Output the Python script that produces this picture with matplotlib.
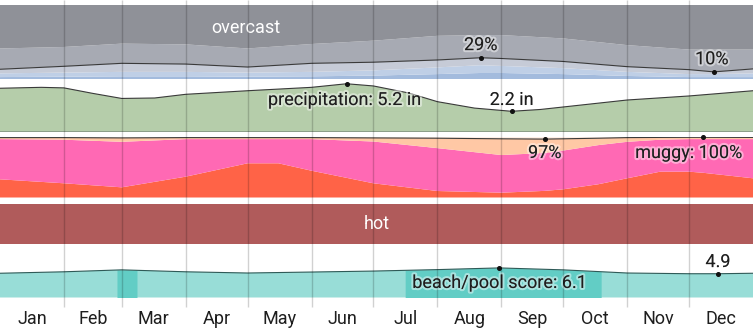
import matplotlib
matplotlib.use("Agg")
import matplotlib.pyplot as plt
import matplotlib.patheffects as pe
import numpy as np

plt.rcParams['font.family'] = ['Roboto', 'DejaVu Sans']

W, H = 753, 330

# ---------------- data ----------------
months = ["Jan", "Feb", "Mar", "Apr", "May", "Jun", "Jul", "Aug", "Sep", "Oct", "Nov", "Dec"]
month_starts = [0, 31, 59, 90, 120, 151, 181, 212, 243, 273, 304, 334, 365]

# cloud cover (cumulative % from bottom)
cloud_days = [0, 31, 59, 90, 120, 151, 181, 212, 233, 243, 273, 304, 334, 346, 365]
clear_cum = [3, 3.5, 4, 4, 3.5, 4, 5, 7, 8.5, 8.5, 7, 4.5, 3, 3, 3]
mostly_clear_cum = [8, 9, 10, 10, 9, 10, 12, 16, 19, 18, 15, 10, 7, 7, 8]
partly_cloudy_cum = [13.5, 17.5, 21.5, 20.5, 16.5, 21.5, 23, 26, 29, 28, 24, 17, 13, 10, 14]
mostly_cloudy_cum = [41.5, 43.5, 48, 47, 41.5, 47.5, 52, 58.5, 59.5, 59.5, 55, 46, 40, 40, 40]

# precipitation (inches)
precip_days = [0, 20, 31, 45, 59, 75, 90, 120, 151, 168, 181, 198, 212, 230, 248, 262, 273, 304, 334, 365]
precip_in = [4.71, 4.81, 4.75, 4.15, 3.6, 3.65, 4.05, 4.44, 4.81, 5.2, 4.96, 4.2, 3.25, 2.55, 2.2, 2.4, 2.67, 3.43, 3.87, 4.44]

# humidity (cumulative % from bottom)
muggy_days = [0, 31, 59, 90, 120, 135, 151, 181, 212, 243, 264, 273, 290, 304, 320, 334, 341, 365]
miserable = [30.2, 23.6, 16.9, 34.6, 56.8, 56.8, 44.5, 23.6, 10.8, 8.0, 11, 13.6, 22, 31.9, 42.9, 42.9, 41, 31.9]
oppressive_cum = [97, 96, 92.5, 97, 97, 97, 97, 93, 82, 70.5, 74, 78, 87, 92.5, 96, 97, 97, 97]
muggy_cum = [99.5, 99.5, 99, 99.5, 99.5, 99.5, 99.5, 99, 98.5, 97.5, 97, 97.5, 98.5, 99.5, 99.8, 100, 100, 99.8]

# beach / pool score
beach_days = [0, 31, 59, 90, 120, 151, 181, 212, 242, 273, 304, 334, 348, 365]
beach_score = [5.0, 5.3, 5.7, 5.3, 5.05, 5.25, 5.45, 5.75, 6.1, 5.7, 5.05, 4.9, 4.9, 5.0]
beach_best = [(56.7, 66.4), (196.4, 291.4)]

# ---------------- figure ----------------
fig = plt.figure(figsize=(W / 100, H / 100), dpi=100)
fig.patch.set_facecolor("white")

def rect(top, bot):
    return [0, 1 - bot / H, 1, (bot - top) / H]

def mkax(top, bot, ylim):
    ax = fig.add_axes(rect(top, bot))
    ax.set_xlim(0, 365)
    ax.set_ylim(*ylim)
    ax.axis("off")
    return ax

halo = [pe.withStroke(linewidth=3, foreground=(1, 1, 1, 0.45))]
TXT = "#1e1e1e"
FS = 13
LINE = "#3a3a3a"
MS = 2.6

# cloud panel
ax = mkax(5, 79.3, (0, 100))
d = np.array(cloud_days)
ax.fill_between(d, 0, clear_cum, color="#a3bbdd", lw=0)
ax.fill_between(d, clear_cum, mostly_clear_cum, color="#bfcfe6", lw=0)
ax.fill_between(d, mostly_clear_cum, partly_cloudy_cum, color="#c6cbd7", lw=0)
ax.fill_between(d, partly_cloudy_cum, mostly_cloudy_cum, color="#a7aab3", lw=0)
ax.fill_between(d, mostly_cloudy_cum, 100, color="#8f9198", lw=0)
ax.plot(d, partly_cloudy_cum, color=LINE, lw=0.8)
ax.plot([233, 346], [29, 10], "o", color="#111", ms=MS)
ax.text(119, 69, "overcast", color="white", fontsize=FS, ha="center", va="center")
ax.text(233, 46, "29%", color=TXT, fontsize=FS, ha="center", va="center", path_effects=halo)
ax.text(345, 27, "10%", color=TXT, fontsize=FS, ha="center", va="center", path_effects=halo)

# precipitation panel
ax = mkax(81, 131.5, (0, 5.5))
ax.fill_between(precip_days, 0, precip_in, color="#b5cdaa", lw=0)
ax.plot(precip_days, precip_in, color=LINE, lw=0.8)
ax.axhline(0, color="#7d927a", lw=1.2)
ax.plot([168, 248], [5.2, 2.2], "o", color="#111", ms=MS)
ax.text(167, 3.43, "precipitation: 5.2 in", color=TXT, fontsize=FS, ha="center", va="center", path_effects=halo)
ax.text(248, 3.43, "2.2 in", color=TXT, fontsize=FS, ha="center", va="center", path_effects=halo)

# humidity panel
ax = mkax(137.3, 197.5, (0, 100))
md = np.array(muggy_days)
ax.fill_between(md, 0, miserable, color="#ff6347", lw=0)
ax.fill_between(md, miserable, oppressive_cum, color="#ff69b4", lw=0)
ax.fill_between(md, oppressive_cum, muggy_cum, color="#ffc8a5", lw=0)
ax.fill_between(md, muggy_cum, 100, color="#ffe9dc", lw=0)
ax.plot(md, muggy_cum, color=LINE, lw=0.8)
ax.plot([264, 341], [97, 100], "o", color="#111", ms=MS, clip_on=False)
ax.text(264, 73.9, "97%", color=TXT, fontsize=FS, ha="center", va="center", path_effects=halo)
ax.text(359.7, 73.9, "muggy: 100%", color=TXT, fontsize=FS, ha="right", va="center", path_effects=halo)

# hot panel
ax = mkax(204, 243.5, (0, 1))
ax.fill_between([0, 365], 0, 1, color="#b05b5b", lw=0)
ax.text(182.5, 0.5, "hot", color="white", fontsize=FS, ha="center", va="center")

# beach panel
ax = mkax(249, 297.5, (0, 10))
bd = np.array(beach_days)
bs = np.array(beach_score)
ax.fill_between(bd, 0, bs, color="#98ddd7", lw=0)
for a, b in beach_best:
    xs = np.linspace(a, b, 50)
    ax.fill_between(xs, 0, np.interp(xs, bd, bs), color="#62cdc5", lw=0)
ax.plot(bd, bs, color="#2f5a57", lw=0.8)
ax.plot([242, 348], [6.1, 4.9], "o", color="#111", ms=MS)
ax.text(242, 3.0, "beach/pool score: 6.1", color=TXT, fontsize=FS, ha="center", va="center", path_effects=halo)
ax.text(348, 7.3, "4.9", color=TXT, fontsize=FS, ha="center", va="center", path_effects=halo)

# overlay: grid lines and month labels
ov = fig.add_axes([0, 0, 1, 1])
ov.set_xlim(0, 365)
ov.set_ylim(H, 0)
ov.axis("off")
ov.patch.set_alpha(0)
ov.vlines(month_starts[1:-1], 0, 307, color=(0, 0, 0, 0.18), lw=1)
for i, m in enumerate(months):
    mid = (month_starts[i] + month_starts[i + 1]) / 2
    ov.text(mid, 324, m, color=TXT, fontsize=FS, ha="center", va="baseline")

fig.savefig("out.png", dpi=100, facecolor="white")
